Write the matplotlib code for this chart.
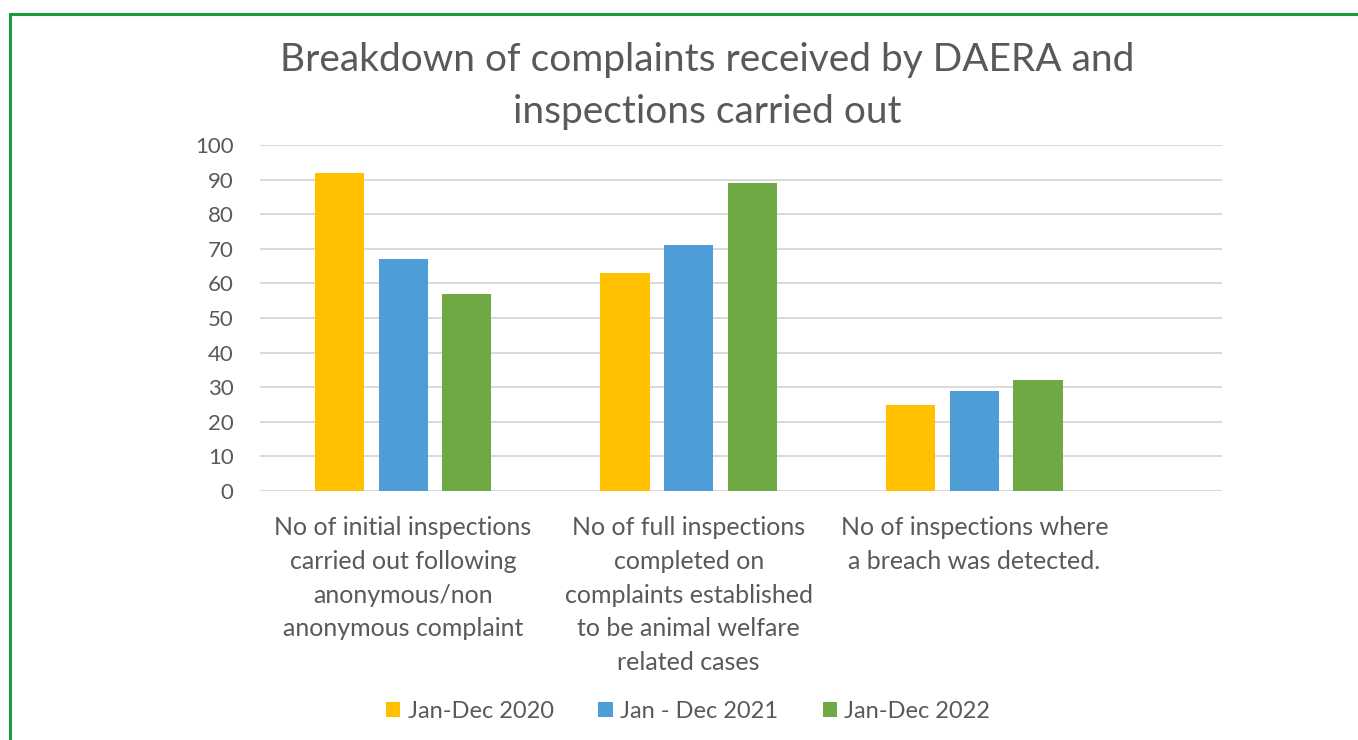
import matplotlib
matplotlib.use("Agg")
import matplotlib.pyplot as plt
import numpy as np
from matplotlib.patches import Rectangle

plt.rcParams['font.family'] = ['Lato', 'DejaVu Sans']

categories = [
    "No of initial inspections\ncarried out following\nanonymous/non\nanonymous complaint",
    "No of full inspections\ncompleted on\ncomplaints established\nto be animal welfare\nrelated cases",
    "No of inspections where\na breach was detected.",
]
series_names = ["Jan-Dec 2020", "Jan - Dec 2021", "Jan-Dec 2022"]
values_2020 = [92, 63, 25]
values_2021 = [67, 71, 29]
values_2022 = [57, 89, 32]
colors = ["#FFC000", "#4F9DD6", "#6FA943"]
yticks = [0, 10, 20, 30, 40, 50, 60, 70, 80, 90, 100]

W, H = 1358, 740
fig = plt.figure(figsize=(W / 100, H / 100), dpi=100)
fig.patch.set_facecolor("white")

# green frame
fig.patches.append(Rectangle((10 / W, -0.1), 1.2, 1 - 14 / H + 0.1,
                             transform=fig.transFigure, fill=False,
                             edgecolor="#1A9C3A", linewidth=2.2))

ax = fig.add_axes([260 / W, 1 - 491 / H, (1222 - 260) / W, (491 - 145) / H])
x = np.arange(len(categories))
step, width = 0.223, 0.172
for i, (vals, name, c) in enumerate(zip([values_2020, values_2021, values_2022], series_names, colors)):
    ax.bar(x + (i - 1) * step, vals, width=width, color=c, label=name, zorder=3)

ax.set_xlim(-0.501, 2.867)
ax.set_ylim(0, 100)
ax.set_yticks(yticks)
ax.set_yticklabels([str(v) for v in yticks])
ax.set_xticks(x)
ax.set_xticklabels(categories)
for lbl in ax.get_xticklabels():
    lbl.set_linespacing(1.57)
ax.tick_params(axis='y', length=0, pad=19, labelsize=16, labelcolor="#595959")
ax.tick_params(axis='x', length=0, pad=18, labelsize=18, labelcolor="#595959")
ax.yaxis.grid(True, color="#D9D9D9", linewidth=1.4, zorder=0)
ax.set_axisbelow(True)
for s in ax.spines.values():
    s.set_visible(False)

fig.text(707 / W, 1 - 86 / H, "Breakdown of complaints received by DAERA and\ninspections carried out",
         ha="center", va="center", fontsize=28, color="#595959", linespacing=1.58)

leg = fig.legend(loc="center", bbox_to_anchor=(688 / W, 1 - 711 / H), ncol=3, frameon=False,
                 fontsize=17, handlelength=0.6, handleheight=0.6, handletextpad=0.3,
                 columnspacing=1.9, labelcolor="#595959")

fig.savefig("out.png", dpi=100, facecolor="white")
